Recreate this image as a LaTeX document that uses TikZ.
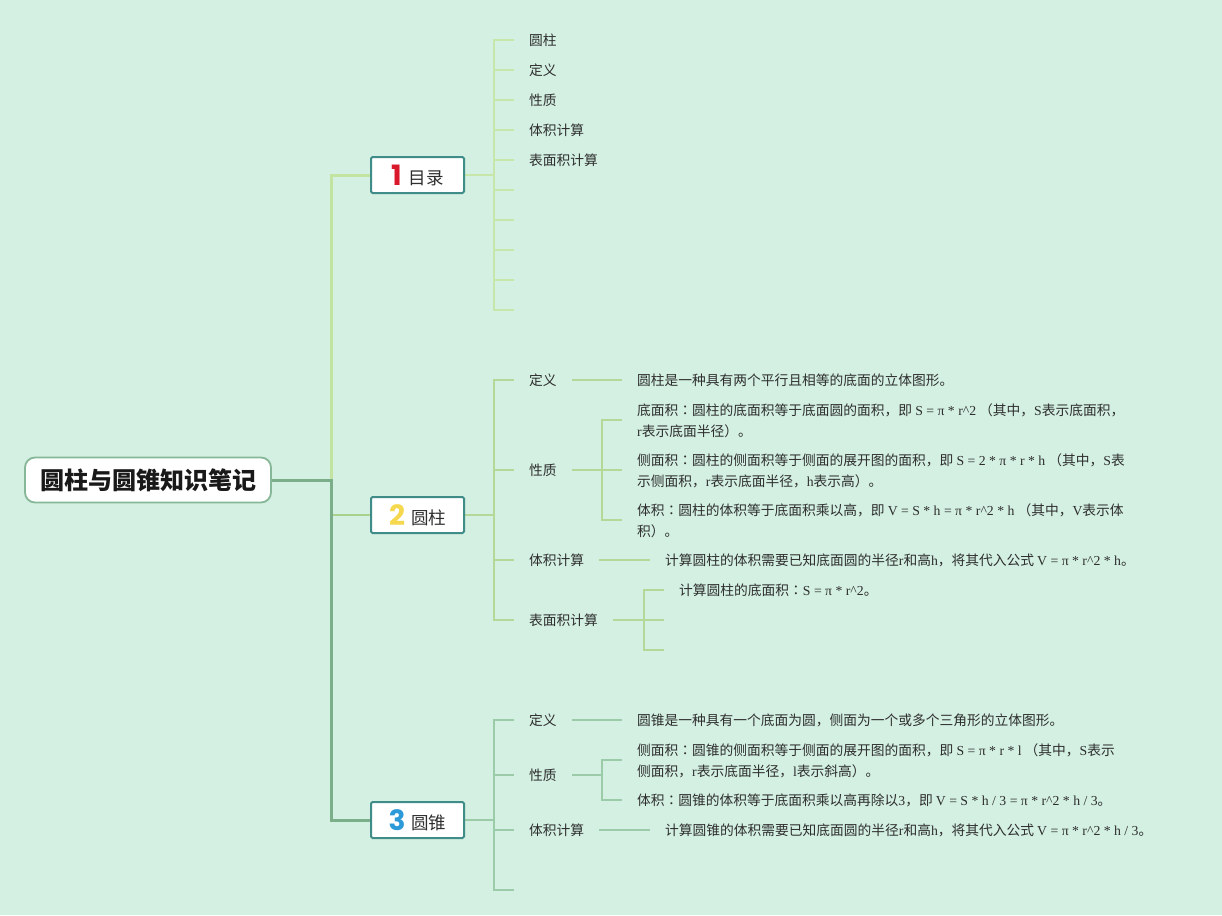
\documentclass[tikz,border=0pt]{standalone}
\usepackage{fontspec}
\setmainfont{Noto Sans CJK SC}
\newfontfamily\latf{Liberation Serif}
\newfontfamily\numf{Poppins}
\newfontfamily\tcf{Noto Sans CJK TC}
\newcommand\lat[1]{{\latf #1}}
\newcommand\colonc{{\tcf ：}}
\definecolor{bg}{HTML}{D3F0E2}
\definecolor{txt}{HTML}{2E2E2E}
\definecolor{cone}{HTML}{C3E3A0}
\definecolor{ctwo}{HTML}{A9D28E}
\definecolor{cthree}{HTML}{7BAF8A}
\definecolor{lone}{HTML}{C6E6AA}
\definecolor{ltwo}{HTML}{B3D898}
\definecolor{lthree}{HTML}{9CCBA9}
\definecolor{boxc}{HTML}{3F8C88}
\definecolor{rootc}{HTML}{86B796}
\definecolor{nred}{HTML}{D9182B}
\definecolor{nyel}{HTML}{F6D84E}
\definecolor{nblue}{HTML}{2C9AD9}
\pgfdeclarelayer{bgl}
\pgfdeclarelayer{lines}
\pgfsetlayers{bgl,lines,main}
\begin{document}
\begin{tikzpicture}[x=1pt,y=-1pt,
  lbl/.style={anchor=west, inner xsep=15pt, inner ysep=2pt, font=\fontsize{13.75}{21}\selectfont, text=txt, align=left},
  topbox/.style={draw=boxc, line width=2pt, fill=white, rounded corners=1.5pt, minimum width=93pt, minimum height=36pt, inner sep=0pt, font=\fontsize{17.5}{20}\selectfont, text=txt},
  rootbox/.style={draw=rootc, line width=1.8pt, fill=white, rounded corners=10pt, minimum width=246pt, minimum height=45pt, inner sep=0pt, font=\bfseries\fontsize{24}{28}\selectfont, text=black!90},
  tone/.style={draw=cone, line width=3pt},
  ttwo/.style={draw=ctwo, line width=2pt},
  tthree/.style={draw=cthree, line width=3pt},
  lnone/.style={draw=lone, line width=1.5pt},
  lntwo/.style={draw=ltwo, line width=1.5pt},
  lnthree/.style={draw=lthree, line width=1.5pt}
]
\begin{pgfonlayer}{bgl}
\fill[bg] (0,0) rectangle (1222,915);
\end{pgfonlayer}
\useasboundingbox (0,0) rectangle (1222,915);

% root and main boxes
\node[rootbox] (root) at (148,480) {圆柱与圆锥知识笔记};
\coordinate (tj) at (331,480);
\node[topbox] (b1) at (417.5,175) {\raisebox{-1pt}{\color{nred}\numf\bfseries\fontsize{28}{28}\selectfont 1}\hspace{7pt}目录};
\node[topbox] (b2) at (417.5,515) {\raisebox{-1pt}{\color{nyel}\numf\bfseries\fontsize{28}{28}\selectfont 2}\hspace{6pt}圆柱};
\node[topbox] (b3) at (417.5,820) {\raisebox{-1pt}{\color{nblue}\numf\bfseries\fontsize{28}{28}\selectfont 3}\hspace{6pt}圆锥};

% ---------- branch 1 ----------
\coordinate (j1) at (494,175);
\node[lbl] (a1) at (514,40) {圆柱};
\node[lbl] (a2) at (514,70) {定义};
\node[lbl] (a3) at (514,100) {性质};
\node[lbl] (a4) at (514,130) {体积计算};
\node[lbl] (a5) at (514,160) {表面积计算};
\coordinate (a6) at (514,190);
\coordinate (a7) at (514,220);
\coordinate (a8) at (514,250);
\coordinate (a9) at (514,280);
\coordinate (a10) at (514,310);

% ---------- branch 2 ----------
\coordinate (j2) at (494,515);
\node[lbl] (c1) at (514,380) {定义};
\node[lbl] (c2) at (514,470) {性质};
\node[lbl] (c3) at (514,560) {体积计算};
\node[lbl] (c4) at (514,620) {表面积计算};
\node[lbl] (d1) at (622,380) {圆柱是一种具有两个平行且相等的底面的立体图形。};
\coordinate (j22) at (602,470);
\node[lbl] (d2) at (622,421) {底面积\colonc 圆柱的底面积等于底面圆的面积，即 \lat{S = π * r\^{}2} （其中，\lat{S}表示底面积，\\\lat{r}表示底面半径）。};
\node[lbl] (d3) at (622,471) {侧面积\colonc 圆柱的侧面积等于侧面的展开图的面积，即 \lat{S = 2 * π * r * h} （其中，\lat{S}表\\示侧面积，\lat{r}表示底面半径，\lat{h}表示高）。};
\node[lbl] (d4) at (622,521) {体积\colonc 圆柱的体积等于底面积乘以高，即 \lat{V = S * h = π * r\^{}2 * h} （其中，\lat{V}表示体\\积）。};
\node[lbl] (d5) at (650,560) {计算圆柱的体积需要已知底面圆的半径\lat{r}和高\lat{h}，将其代入公式 \lat{V = π * r\^{}2 * h}。};
\coordinate (j24) at (644,620);
\node[lbl] (d6) at (664,590) {计算圆柱的底面积\colonc\lat{S = π * r\^{}2}。};
\coordinate (d7) at (664,620);
\coordinate (d8) at (664,650);

% ---------- branch 3 ----------
\coordinate (j3) at (494,820);
\node[lbl] (e1) at (514,720) {定义};
\node[lbl] (e2) at (514,775) {性质};
\node[lbl] (e3) at (514,830) {体积计算};
\coordinate (e4) at (514,890);
\node[lbl] (f1) at (622,720) {圆锥是一种具有一个底面为圆，侧面为一个或多个三角形的立体图形。};
\coordinate (j32) at (602,775);
\node[lbl] (f2) at (622,761) {侧面积\colonc 圆锥的侧面积等于侧面的展开图的面积，即 \lat{S = π * r * l} （其中，\lat{S}表示\\侧面积，\lat{r}表示底面半径，\lat{l}表示斜高）。};
\node[lbl] (f3) at (622,800) {体积\colonc 圆锥的体积等于底面积乘以高再除以\lat{3}，即 \lat{V = S * h / 3 = π * r\^{}2 * h / 3}。};
\node[lbl] (f4) at (650,830) {计算圆锥的体积需要已知底面圆的半径\lat{r}和高\lat{h}，将其代入公式 \lat{V = π * r\^{}2 * h / 3}。};

% connectors
\begin{pgfonlayer}{lines}
\draw[tone] (tj) |- (b1.west);
\draw[ttwo] (tj |- b2.west) -- (b2.west);
\draw[tthree] (root.east) -- (tj) |- (b3.west);

\draw[lnone] (b1.east) -- (j1);
\foreach \n in {a1.west,a2.west,a3.west,a4.west,a5.west,a6,a7,a8,a9,a10}
  \draw[lnone] (j1) |- (\n);

\draw[lntwo] (b2.east) -- (j2);
\foreach \n in {c1,c2,c3,c4}
  \draw[lntwo] (j2) |- (\n.west);
\draw[lntwo] (c1.east) -- (d1.west);
\draw[lntwo] (c2.east) -- (j22);
\draw[lntwo] (j22) |- (d2.west |- 0,420);
\draw[lntwo] (j22) |- (d3.west |- 0,470);
\draw[lntwo] (j22) |- (d4.west |- 0,520);
\draw[lntwo] (c3.east) -- (d5.west);
\draw[lntwo] (c4.east) -- (j24);
\draw[lntwo] (j24) |- (d6.west);
\draw[lntwo] (j24) |- (d7);
\draw[lntwo] (j24) |- (d8);

\draw[lnthree] (b3.east) -- (j3);
\foreach \n in {e1.west,e2.west,e3.west,e4}
  \draw[lnthree] (j3) |- (\n);
\draw[lnthree] (e1.east) -- (f1.west);
\draw[lnthree] (e2.east) -- (j32);
\draw[lnthree] (j32) |- (f2.west |- 0,760);
\draw[lnthree] (j32) |- (f3.west);
\draw[lnthree] (e3.east) -- (f4.west);
\end{pgfonlayer}
\end{tikzpicture}
\end{document}
